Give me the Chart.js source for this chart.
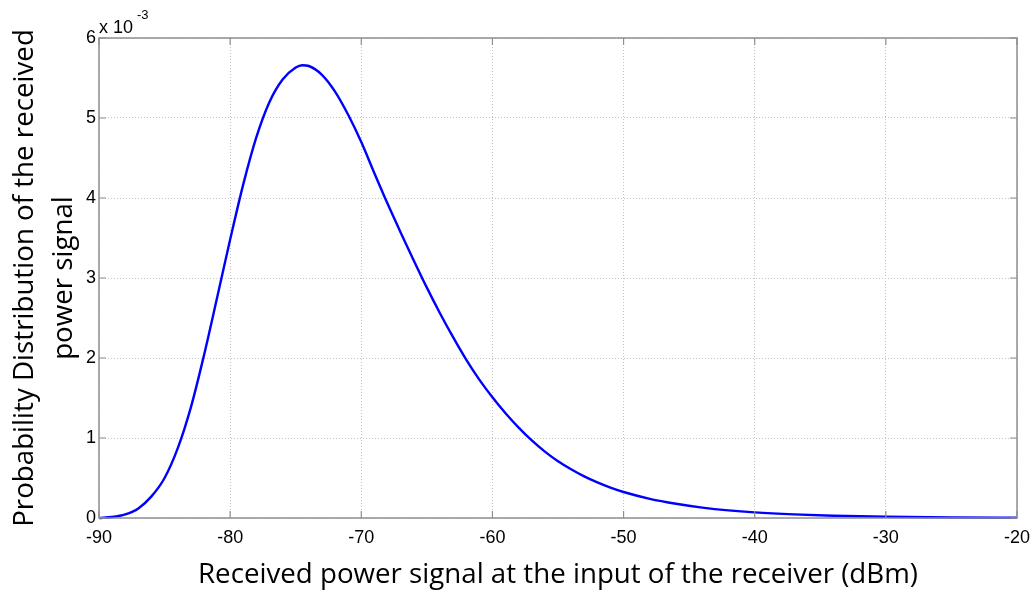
<!DOCTYPE html>
<html>
<head>
<meta charset="utf-8">
<title>Received power distribution</title>
<script src="https://cdn.jsdelivr.net/npm/chart.js@4.4.1/dist/chart.umd.min.js"></script>
<style>
  html, body { margin: 0; padding: 0; background: #fff; }
  #wrap { width: 1034px; height: 594px; }
</style>
</head>
<body>
<div id="wrap"><canvas id="pdfChart" width="1034" height="594"></canvas></div>
<script>
// received power (dBm) and probability density (values in 1e-3)
const powerDbm = [-90, -89, -88, -87, -86, -85, -84, -83, -82, -81, -80, -79, -78, -77, -76, -75, -74.5, -74, -73, -72,
    -71, -70, -69, -68, -67, -66, -65, -64, -63, -62, -61, -60, -59, -58, -57, -56, -55, -54, -53, -52,
    -51, -50, -48, -46, -44, -42, -40, -37, -34, -30, -25, -20];
const densityE3 = [0.00, 0.012, 0.045, 0.12, 0.27, 0.50, 0.87, 1.38, 2.03, 2.75, 3.48, 4.17, 4.76, 5.20, 5.48, 5.63, 5.66, 5.65, 5.54, 5.33,
    5.04, 4.70, 4.31, 3.93, 3.57, 3.22, 2.88, 2.56, 2.26, 1.98, 1.73, 1.51, 1.31, 1.13, 0.97, 0.83, 0.71, 0.61, 0.52, 0.445,
    0.38, 0.325, 0.24, 0.178, 0.13, 0.095, 0.07, 0.045, 0.028, 0.015, 0.006, 0.003];
const xTicks = [-90, -80, -70, -60, -50, -40, -30, -20];
const yTicks = [0, 1, 2, 3, 4, 5, 6];   // shown x 10^-3

const xTitle = 'Received power signal at the input of the receiver (dBm)';
const yTitleLines = ['Probability Distribution of the received', 'power signal'];

const axisGrey = '#8f8f8f';
const labelFamily = '"Liberation Sans", Arial, sans-serif';

// inward MATLAB style tick marks, the box and all the texts
const matlabFrame = {
    id: 'matlabFrame',
    afterDraw(chart) {
        const ctx = chart.ctx;
        const a = chart.chartArea;
        const xs = chart.scales.x, ys = chart.scales.y;
        ctx.save();
        ctx.strokeStyle = axisGrey;
        ctx.lineWidth = 1.5;
        ctx.strokeRect(a.left, a.top, a.right - a.left, a.bottom - a.top);
        ctx.lineWidth = 1.2;
        ctx.beginPath();
        xTicks.forEach(v => {
            const px = xs.getPixelForValue(v);
            ctx.moveTo(px, a.bottom); ctx.lineTo(px, a.bottom - 7);
            ctx.moveTo(px, a.top); ctx.lineTo(px, a.top + 7);
        });
        yTicks.forEach(v => {
            const py = ys.getPixelForValue(v / 1000);
            ctx.moveTo(a.left, py); ctx.lineTo(a.left + 7, py);
            ctx.moveTo(a.right, py); ctx.lineTo(a.right - 7, py);
        });
        ctx.stroke();

        // exponent label
        ctx.fillStyle = '#000';
        ctx.textBaseline = 'alphabetic';
        ctx.textAlign = 'left';
        ctx.font = '18px ' + labelFamily;
        ctx.fillText('x 10', a.left, 33);
        ctx.font = '13px ' + labelFamily;
        ctx.fillText('-3', a.left + 38, 19);

        // titles, Calibri-like: Open Sans squeezed to the original width
        ctx.font = '27px "Open Sans", sans-serif';
        const sx = 720 / ctx.measureText(xTitle).width;
        ctx.save();
        ctx.translate((a.left + a.right) / 2, 583);
        ctx.scale(sx, 1);
        ctx.textAlign = 'center';
        ctx.fillText(xTitle, 0, 0);
        ctx.restore();

        const midY = (a.top + a.bottom) / 2;
        [33, 72].forEach((bx, i) => {
            ctx.save();
            ctx.translate(bx, midY);
            ctx.rotate(-Math.PI / 2);
            ctx.scale(sx, 1);
            ctx.textAlign = 'center';
            ctx.fillText(yTitleLines[i], 0, 0);
            ctx.restore();
        });
        ctx.restore();
    }
};

new Chart(document.getElementById('pdfChart'), {
    type: 'line',
    data: {
        datasets: [{
            data: powerDbm.map((p, i) => ({ x: p, y: densityE3[i] / 1000 })),
            borderColor: '#0000ff',
            borderWidth: 2.4,
            pointRadius: 0,
            fill: false,
            cubicInterpolationMode: 'monotone',
            clip: 4
        }]
    },
    options: {
        responsive: false,
        animation: false,
        layout: { padding: { left: 0, top: 38, right: 17, bottom: 0 } },
        plugins: { legend: { display: false }, tooltip: { enabled: false } },
        scales: {
            x: {
                type: 'linear',
                min: -90, max: -20,
                afterFit(scale) { scale.height = 76; scale.paddingLeft = 0; scale.paddingRight = 0; },
                afterBuildTicks(scale) { scale.ticks = xTicks.map(v => ({ value: v })); },
                ticks: { color: '#000', font: { family: labelFamily, size: 18 }, padding: 9, maxRotation: 0 },
                grid: { color: '#c4c4c4', lineWidth: 1, drawTicks: false },
                border: { display: false, dash: [1, 2] }
            },
            y: {
                type: 'linear',
                min: 0, max: 0.006,
                afterFit(scale) { scale.width = 99; scale.paddingTop = 0; scale.paddingBottom = 0; },
                afterBuildTicks(scale) { scale.ticks = yTicks.map(v => ({ value: v / 1000 })); },
                ticks: {
                    color: '#000', font: { family: labelFamily, size: 18 }, padding: 3,
                    callback: v => String(Math.round(v * 1000))
                },
                grid: { color: '#c4c4c4', lineWidth: 1, drawTicks: false },
                border: { display: false, dash: [1, 2] }
            }
        }
    },
    plugins: [matlabFrame]
});
</script>
</body>
</html>
